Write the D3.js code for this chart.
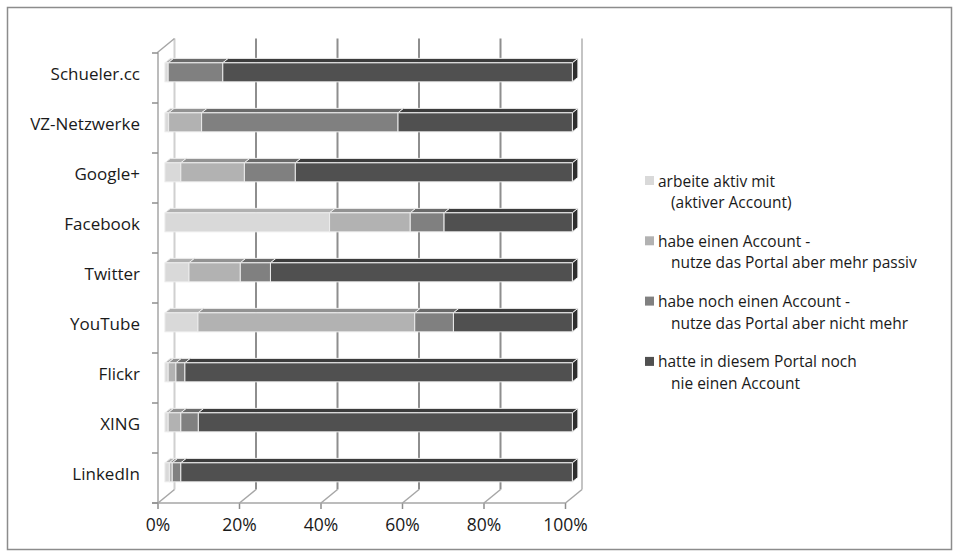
<!DOCTYPE html>
<html>
<head>
<meta charset="utf-8">
<script src="https://cdn.jsdelivr.net/npm/d3@7"></script>
<style>
  body { margin: 0; background: #fff; }
  svg { display: block; }
  text { font-family: "Open Sans", "Liberation Sans", sans-serif; fill: #1a1a1a; }
</style>
</head>
<body>
<div id="chart"></div>
<script>
// categories top to bottom
var portals = ["Schueler.cc", "VZ-Netzwerke", "Google+", "Facebook", "Twitter", "YouTube", "Flickr", "XING", "LinkedIn"];

// shares in %
var aktiv    = [0.8, 0.9, 3.9, 40.4, 5.9, 8.1, 0.8, 0.8, 1.1];
var passiv   = [0.0, 8.1, 15.6, 19.8, 12.6, 53.2, 1.9, 3.1, 0.7];
var nichtMehr = [13.4, 48.2, 12.5, 8.3, 7.4, 9.5, 2.2, 4.3, 2.1];
var nie      = [85.8, 42.8, 68.0, 31.5, 74.1, 29.2, 95.1, 91.8, 96.1];

var seriesNames = [
    ["arbeite aktiv mit", "(aktiver Account)"],
    ["habe einen Account -", "nutze das Portal aber mehr passiv"],
    ["habe noch einen Account -", "nutze das Portal aber nicht mehr"],
    ["hatte in diesem Portal noch", "nie einen Account"]
];
var xTicks = [0, 20, 40, 60, 80, 100];

var fills = ["#d9d9d9", "#b2b2b2", "#808080", "#505050"];
var tops  = ["#b0b0b0", "#929292", "#6a6a6a", "#3c3c3c"];

var W = 960, H = 558;
var DX = 16.5, DY = -13.5;   // depth offset of the back wall

var svg = d3.select("#chart").append("svg")
    .attr("width", W)
    .attr("height", H);

// outer frame
svg.append("rect")
    .attr("x", 7.5).attr("y", 7.5)
    .attr("width", 944).attr("height", 542)
    .attr("fill", "none")
    .attr("stroke", "#8c8c8c")
    .attr("stroke-width", 1.5);

var x = d3.scaleLinear().domain([0, 100]).range([158, 565.5]);
var y = d3.scaleBand().domain(portals).range([53, 503]);

var data = portals.map(function (p, i) {
    return { portal: p, s0: aktiv[i], s1: passiv[i], s2: nichtMehr[i], s3: nie[i] };
});
var stack = d3.stack().keys(["s0", "s1", "s2", "s3"])(data);

var g = svg.append("g");

// back wall gridlines + floor lines
xTicks.forEach(function (t) {
    var col = t === 100 ? "#c4c4c4" : "#8e8e8e";
    g.append("line")
        .attr("x1", x(t) + DX).attr("x2", x(t) + DX)
        .attr("y1", 53 + DY - 1).attr("y2", 503 + DY)
        .attr("stroke", t === 0 ? "#d0d0d0" : col)
        .attr("stroke-width", 2);
    g.append("line")
        .attr("x1", x(t)).attr("y1", 503)
        .attr("x2", x(t) + DX).attr("y2", 503 + DY)
        .attr("stroke", "#a6a6a6")
        .attr("stroke-width", 1.5);
    g.append("line")
        .attr("x1", x(t)).attr("x2", x(t))
        .attr("y1", 503).attr("y2", 509)
        .attr("stroke", "#8e8e8e")
        .attr("stroke-width", 1.5);
});

// floor front edge and left wall
g.append("line")
    .attr("x1", x(0) - 6).attr("x2", x(100))
    .attr("y1", 503).attr("y2", 503)
    .attr("stroke", "#a6a6a6").attr("stroke-width", 1.5);
g.append("path")
    .attr("d", "M" + x(0) + ",503 V52 L" + (x(0) + DX) + "," + (52 + DY))
    .attr("fill", "none")
    .attr("stroke", "#a6a6a6").attr("stroke-width", 1.5);

// y ticks on the left wall
y.domain().concat([null]).forEach(function (d, i) {
    var yy = 53 + i * y.step();
    g.append("line")
        .attr("x1", x(0) - 6).attr("x2", x(0))
        .attr("y1", yy).attr("y2", yy)
        .attr("stroke", "#8e8e8e").attr("stroke-width", 1.5);
});

// bars (front of the bar at f0 of the depth, back at f1)
var f0 = 0.42, f1 = 0.75, barH = 19;
var bdx = (f1 - f0) * DX, bdy = (f1 - f0) * DY;

function bx(v) { return x(v) + f0 * DX; }
function byTop(p) { return y(p) + y.bandwidth() / 2 + f0 * DY - barH / 2; }

stack.forEach(function (layer, si) {
    var lg = g.append("g");
    layer.forEach(function (d) {
        if (d[1] - d[0] <= 0) return;
        var x0 = bx(d[0]), x1 = bx(d[1]), y0 = byTop(d.data.portal);
        // top face
        lg.append("path")
            .attr("d", "M" + x0 + "," + y0 + " L" + (x0 + bdx) + "," + (y0 + bdy) +
                " L" + (x1 + bdx) + "," + (y0 + bdy) + " L" + x1 + "," + y0 + "Z")
            .attr("fill", tops[si])
            .attr("stroke", "#ececec").attr("stroke-width", 1);
        // front face
        lg.append("rect")
            .attr("x", x0).attr("y", y0)
            .attr("width", x1 - x0).attr("height", barH)
            .attr("fill", fills[si])
            .attr("stroke", "#ececec").attr("stroke-width", 1);
        // right end cap of the whole bar
        if (si === 3) {
            lg.append("path")
                .attr("d", "M" + x1 + "," + y0 + " L" + (x1 + bdx) + "," + (y0 + bdy) +
                    " L" + (x1 + bdx) + "," + (y0 + bdy + barH) + " L" + x1 + "," + (y0 + barH) + "Z")
                .attr("fill", "#2f2f2f")
                .attr("stroke", "#ececec").attr("stroke-width", 1);
        }
    });
});

// category labels
g.selectAll(".cat")
    .data(portals)
    .enter().append("text")
    .attr("class", "cat")
    .attr("x", 140)
    .attr("y", function (d) { return y(d) + y.bandwidth() / 2 - 4; })
    .attr("dy", "0.35em")
    .attr("text-anchor", "end")
    .attr("font-size", 17)
    .text(function (d) { return d; });

// x tick labels
g.selectAll(".xt")
    .data(xTicks)
    .enter().append("text")
    .attr("x", function (d) { return x(d); })
    .attr("y", 531)
    .attr("text-anchor", "middle")
    .attr("font-size", 17.5)
    .text(function (d) { return d + "%"; });

// legend
var legend = svg.append("g")
    .selectAll("g")
    .data(seriesNames)
    .enter().append("g")
    .attr("transform", function (d, i) { return "translate(645," + (181 + i * 60.3) + ")"; });

legend.append("rect")
    .attr("x", 0).attr("y", -5)
    .attr("width", 9).attr("height", 9)
    .attr("fill", function (d, i) { return fills[i]; });

legend.append("text")
    .attr("x", 13)
    .attr("font-size", 15.5)
    .selectAll("tspan")
    .data(function (d) { return d; })
    .enter().append("tspan")
    .attr("x", function (d, i) { return i ? 26 : 13; })
    .attr("y", function (d, i) { return 5.5 + i * 21.5; })
    .text(function (d) { return d; });
</script>
</body>
</html>
